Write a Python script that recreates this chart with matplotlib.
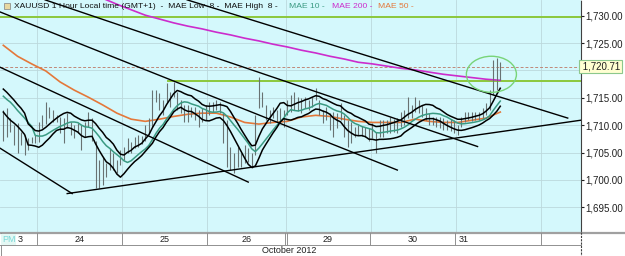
import numpy as np
import pandas as pd
import matplotlib
matplotlib.use("Agg")
import matplotlib.pyplot as plt
from matplotlib.patches import Ellipse
from matplotlib.lines import Line2D

plt.rcParams['font.family'] = ['Liberation Sans', 'DejaVu Sans']

# hourly bars, Oct 23 14:00 -> Oct 31 ~12:00 (weekend skipped)
highs = [1712.7, 1713.1, 1711.3, 1710.0, 1710.4, 1708.7, 1708.2, 1707.6, 1707.8, 1708.2,
         1710.5, 1711.8, 1714.2, 1713.3, 1712.7, 1711.8, 1711.5, 1711.3, 1712.2, 1710.5,
         1710.0, 1710.4, 1710.0, 1710.5, 1712.4, 1711.3, 1707.2, 1703.6, 1704.1, 1703.0,
         1705.8, 1704.9, 1703.6, 1705.4, 1706.0, 1707.6, 1706.9, 1707.8, 1708.2, 1708.0,
         1710.0, 1711.3, 1716.4, 1716.4, 1715.8, 1714.6, 1717.7, 1716.0, 1717.9, 1716.0,
         1714.6, 1713.7, 1713.7, 1713.3, 1713.3, 1712.7, 1713.1, 1713.7, 1714.2, 1714.2,
         1714.6, 1714.2, 1712.2, 1710.9, 1706.0, 1704.9, 1706.0, 1705.0, 1706.3, 1705.8,
         1705.0, 1711.8, 1718.8, 1716.0, 1713.7, 1712.7, 1713.3, 1712.7, 1713.1, 1712.7,
         1714.6, 1715.5, 1716.0, 1715.1, 1714.9, 1715.1, 1714.6, 1715.1, 1716.8, 1714.6,
         1712.7, 1713.3, 1712.2, 1712.4, 1712.2, 1714.0, 1711.8, 1710.9, 1710.5, 1709.6,
         1710.0, 1709.8, 1709.6, 1709.4, 1710.4, 1708.7, 1710.9, 1710.9, 1710.9, 1711.5,
         1711.1, 1711.3, 1712.4, 1712.7, 1715.1, 1713.7, 1715.1, 1714.6, 1713.7, 1713.1,
         1712.2, 1711.5, 1711.5, 1711.5, 1711.3, 1710.9, 1711.1, 1710.9, 1710.0, 1711.5,
         1712.4, 1712.4, 1712.4, 1712.4, 1712.4, 1713.1, 1714.0, 1716.4, 1721.9, 1722.3,
         1721.5]
lows = [1707.2, 1707.8, 1708.7, 1706.3, 1704.9, 1706.3, 1704.5, 1705.4, 1706.7, 1706.7,
        1706.9, 1709.4, 1710.3, 1711.3, 1710.5, 1710.5, 1708.5, 1706.7, 1709.4, 1708.2,
        1707.6, 1708.5, 1705.4, 1707.8, 1709.6, 1707.2, 1698.5, 1698.5, 1699.0, 1700.5,
        1701.8, 1701.8, 1701.2, 1702.7, 1703.6, 1705.0, 1704.9, 1705.8, 1706.0, 1706.5,
        1707.2, 1708.5, 1709.6, 1714.2, 1712.7, 1711.8, 1714.2, 1713.3, 1715.1, 1712.7,
        1712.2, 1710.5, 1710.5, 1711.5, 1711.0, 1709.6, 1710.5, 1710.9, 1711.8, 1712.4,
        1712.7, 1712.2, 1706.7, 1702.3, 1701.8, 1701.2, 1702.3, 1702.3, 1703.0, 1703.2,
        1702.1, 1704.5, 1713.1, 1713.3, 1710.9, 1710.4, 1711.3, 1710.5, 1710.5, 1709.6,
        1711.8, 1712.4, 1712.7, 1712.6, 1712.2, 1713.1, 1712.7, 1713.3, 1714.6, 1711.8,
        1710.4, 1710.9, 1709.1, 1707.8, 1709.4, 1710.9, 1707.8, 1706.0, 1706.7, 1707.8,
        1708.2, 1708.0, 1707.8, 1707.2, 1707.6, 1704.9, 1707.8, 1707.8, 1708.5, 1708.5,
        1708.7, 1708.5, 1709.6, 1710.0, 1711.3, 1711.3, 1712.4, 1712.2, 1711.5, 1710.9,
        1710.0, 1710.0, 1709.6, 1709.4, 1709.1, 1709.1, 1708.9, 1708.5, 1708.2, 1709.6,
        1710.5, 1710.9, 1710.7, 1710.9, 1710.9, 1711.3, 1711.8, 1712.7, 1715.5, 1716.4,
        1718.2]

# band values at the left edge (averages reach back before the visible bars)
mae_high_start = [1716.6, 1716.0, 1715.3, 1714.6, 1713.8, 1713.1, 1712.2]
mae_low_start = [1712.4, 1711.6, 1710.9, 1710.4, 1709.8, 1709.1, 1708.3]
mae10_start = [1715.3, 1714.7, 1714.2, 1713.5, 1712.7, 1712.0, 1711.3, 1710.5, 1709.8]

# slow averages read every 4 bars
slow_idx = list(range(0, 141, 4))
mae50 = [1724.6, 1722.6, 1721.2, 1719.9, 1717.9, 1716.4, 1715.1, 1713.7, 1712.2, 1711.1,
         1710.7, 1711.1, 1711.6, 1712.0, 1712.2, 1712.2, 1711.5, 1710.5, 1710.2, 1710.5,
         1710.7, 1711.5, 1711.8, 1711.6, 1711.1, 1710.7, 1710.5, 1710.5, 1710.5, 1711.1,
         1710.7, 1710.5, 1710.5, 1710.9, 1711.3, 1712.4]
mae200_idx = list(range(28, 141, 4))
mae200 = [1733.2, 1732.1, 1731.1, 1730.1, 1729.4, 1728.7, 1728.1, 1727.6, 1727.0, 1726.5,
          1725.9, 1725.4, 1724.8, 1724.3, 1723.7, 1723.2, 1722.6, 1722.1, 1721.5, 1721.2,
          1720.8, 1720.4, 1720.1, 1719.7, 1719.3, 1719.0, 1718.7, 1718.4, 1718.2]

# drawn trend lines: (bar, price) -> (bar, price)
trend_lines = [
    ((-0.93, 1705.8), (19.4, 1697.5)),
    ((-0.93, 1720.6), (69.0, 1699.6)),
    ((-0.93, 1730.7), (111.0, 1701.8)),
    ((11.8, 1732.9), (133.6, 1706.1)),
    ((51.8, 1732.9), (159.0, 1711.3)),
    ((18.0, 1697.5), (162.6, 1710.9)),
]
resist_top = 1729.7
resist_mid = 1718.1
resist_mid_from = 46.4
last_price = 1720.71

day_bounds = [9.5, 33.5, 57.5, 79.5, 103.5, 127.5, 151.5]
day_labels = ['24', '25', '26', '29', '30']
day_label_pos = [21.5, 45.5, 68.5, 91.5, 115.5]

W, H = 625, 256
fig = plt.figure(figsize=(6.25, 2.56), dpi=100)
fig.patch.set_facecolor('white')
plot_right = 580.5
plot_bottom = 232.7
ax = fig.add_axes([0, 1 - plot_bottom / H, plot_right / W, plot_bottom / H])
ax.set_facecolor('#d4f8fc')
ax.set_xlim(-0.93, 162.6)
ax.set_ylim(1690.35, 1732.88)

yt = [1695, 1700, 1705, 1710, 1715, 1720, 1725, 1730]
for v in yt:
    ax.axhline(v, color='#bcd8dc', lw=0.6, zorder=0)
for b in day_bounds:
    ax.axvline(b, color='#bcd8dc', lw=0.6, zorder=0)

idx = np.arange(len(highs))
hi = pd.Series(highs)
lo = pd.Series(lows)
mid = (hi + lo) / 2
band_hi = hi.rolling(8).mean()
band_lo = lo.rolling(8).mean()
band_10 = mid.rolling(10).mean()
band_hi[:7] = mae_high_start
band_lo[:7] = mae_low_start
band_10[:9] = mae10_start

ax.axhline(resist_top, color='#8cc83c', lw=1.4, zorder=2)
ax.plot([resist_mid_from, 162.6], [resist_mid, resist_mid], color='#8cc83c', lw=1.4, zorder=2)
ax.axhline(last_price, color='#c08878', lw=0.7, ls=(0, (3, 2)), zorder=2)

ax.plot(slow_idx, mae50, color='#e4783a', lw=1.2, zorder=3)
ax.plot(mae200_idx, mae200, color='#cc2ccc', lw=1.2, zorder=3)

ax.vlines(idx, lows, highs, color='#687272', lw=0.8, zorder=4)
ax.plot(idx, band_10, color='#3a9a82', lw=1.1, zorder=5)
ax.plot(idx, band_hi, color='black', lw=1.1, zorder=5)
ax.plot(idx, band_lo, color='black', lw=1.1, zorder=5)

for (x0, y0), (x1, y1) in trend_lines:
    ax.plot([x0, x1], [y0, y1], color='black', lw=1.0, zorder=6)

ax.add_patch(Ellipse((137.5, 1719.3), 14.1, 6.6, fill=False, ec='#78d478', lw=1.0, zorder=7))

ax.yaxis.tick_right()
ax.set_yticks(yt)
# 1,720.00 sits under the last-price box
ax.set_yticklabels(['' if v == 1720 else f"{v:,.2f}" for v in yt])
ax.tick_params(axis='y', length=2, pad=1.5, labelsize=7, colors='#202020')
ax.set_xticks([])
for s in ['left', 'top', 'bottom']:
    ax.spines[s].set_visible(False)
ax.spines['right'].set_linestyle((0, (2, 1)))
ax.spines['right'].set_color('#404040')
ax.spines['right'].set_linewidth(0.8)

ax.text(1.0, last_price, ' 1,720.71', transform=ax.get_yaxis_transform(), fontsize=7,
        va='center', ha='left', color='#202020',
        bbox=dict(boxstyle='square,pad=0.15', fc='#ffffd2', ec='#8cc88c', lw=0.8), zorder=10,
        clip_on=False)

# title pieces
def fx(px):
    return px / W

def fy(py):
    return 1 - py / H

title_parts = [("XAUUSD 1 Hour Local time (GMT+1)  -  MAE Low  8 -  MAE High  8 -", 14, '#101010'),
               ("MAE 10 -", 289, '#3a9a82'),
               ("MAE 200 -", 332, '#cc2ccc'),
               ("MAE 50 -", 378, '#e4783a')]
for txt, px, col in title_parts:
    fig.text(fx(px), fy(7), txt, fontsize=6.1, color=col, va='center', ha='left')
fig.patches.append(plt.Rectangle((fx(4), fy(9)), 6 / W, 6 / H, transform=fig.transFigure,
                                 fc='#e8d8a0', ec='#808080', lw=0.5))

# bottom time axis
tr = fig.transFigure
fig.add_artist(Line2D([0, fx(W)], [fy(233), fy(233)], transform=tr, color='#a0a0a0', lw=1.6))
fig.add_artist(Line2D([0, fx(plot_right)], [fy(245), fy(245)], transform=tr, color='#909090', lw=0.7))
fig.add_artist(Line2D([fx(0.5), fx(0.5)], [fy(233), fy(256)], transform=tr, color='#909090', lw=0.7))
fig.add_artist(Line2D([fx(plot_right), fx(plot_right)], [fy(232), fy(256)], transform=tr,
                      color='#404040', lw=0.8, ls=(0, (2, 1))))
fig.add_artist(Line2D([0, fx(plot_right)], [fy(255.5), fy(255.5)], transform=tr, color='#909090', lw=0.7))
sep_px = [(b + 0.93) * 3.546 for b in day_bounds]
for i, sp in enumerate(sep_px):
    fig.add_artist(Line2D([fx(sp), fx(sp)], [fy(233), fy(245)], transform=tr, color='#909090', lw=0.7))
    if i == 3:
        fig.add_artist(Line2D([fx(sp + 2), fx(sp + 2)], [fy(233), fy(245)], transform=tr,
                              color='#909090', lw=0.7))
for lab, b in zip(day_labels, day_label_pos):
    fig.text(fx((b + 0.93) * 3.546), fy(239.5), lab, fontsize=6.5, ha='center', va='center', color='#202020')
fig.text(fx(459), fy(239.5), '31', fontsize=6.5, ha='left', va='center', color='#202020')
fig.text(fx(18), fy(239.5), '3', fontsize=6.5, ha='left', va='center', color='#202020')
fig.text(fx(2), fy(239.5), 'PM', fontsize=6.5, ha='left', va='center', color='#7ad8d8',
         bbox=dict(boxstyle='square,pad=0.1', fc='#e4f8f4', ec='none'))
fig.text(fx(289), fy(250.5), 'October 2012', fontsize=6.5, ha='center', va='center', color='#202020')

fig.savefig('out.png', dpi=100)
